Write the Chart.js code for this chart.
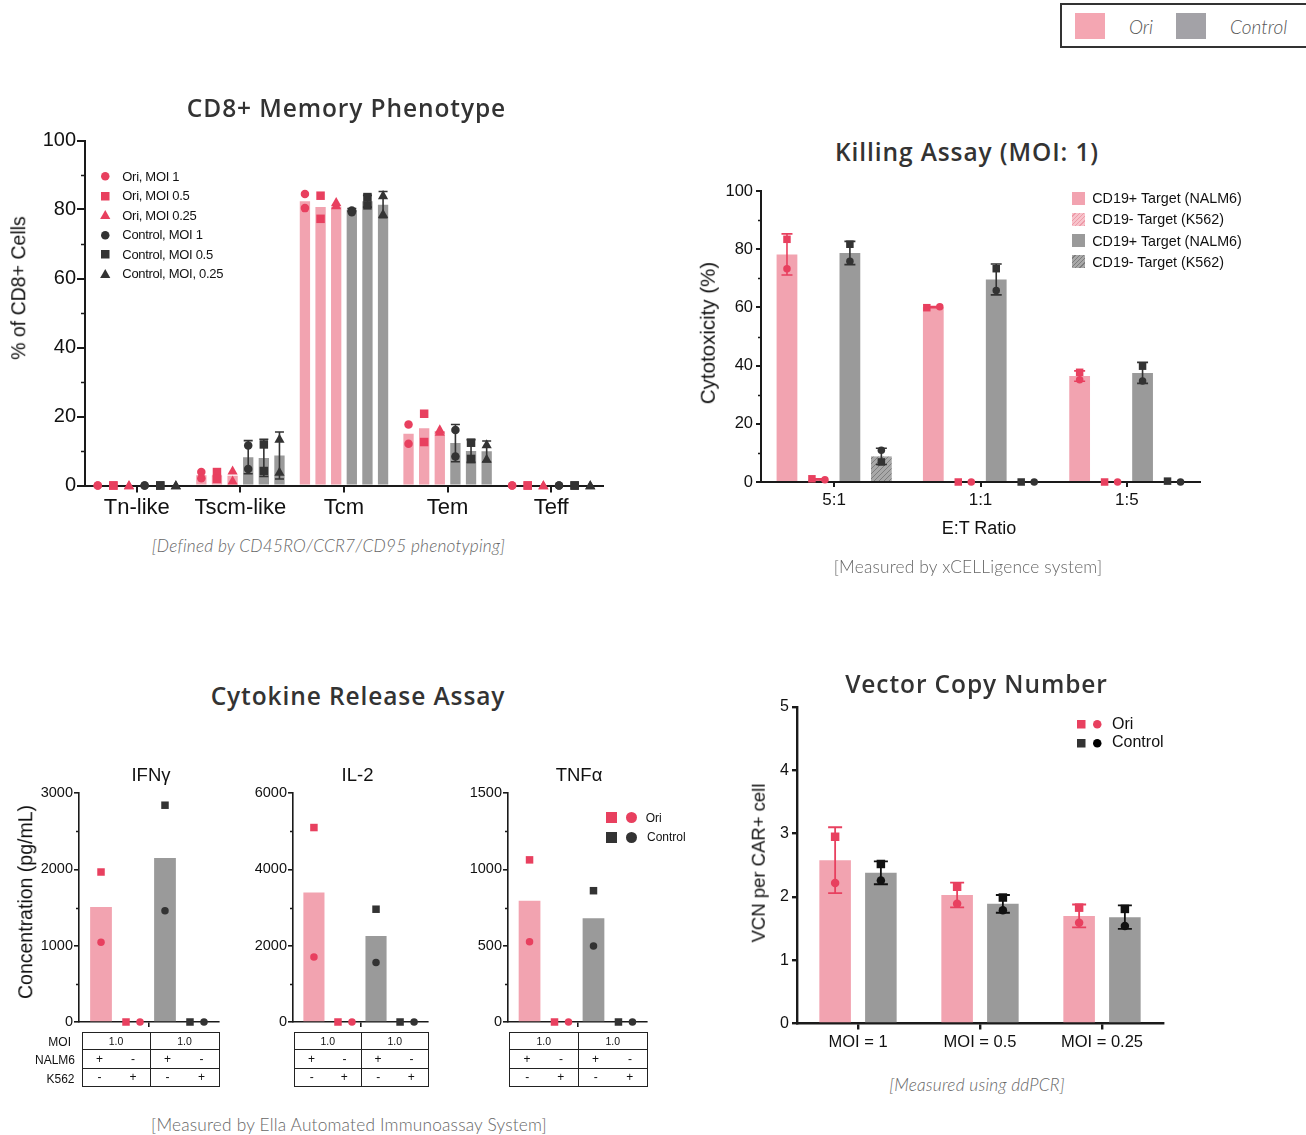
<!DOCTYPE html>
<html><head><meta charset="utf-8">
<script src="https://cdn.jsdelivr.net/npm/chart.js@4.4.1/dist/chart.umd.min.js"></script>
<style>
html,body{margin:0;padding:0;background:#fff;}
body{width:1306px;height:1135px;position:relative;overflow:hidden;font-family:"Liberation Sans",Arial,sans-serif;color:#111;}
.a{position:absolute;white-space:nowrap;line-height:1;}
.c{transform:translate(-50%,-50%);}
.l{transform:translate(0,-50%);}
.r{transform:translate(-100%,-50%);}
.rot{transform:translate(-50%,-50%) rotate(-90deg);}
.ptitle{font-family:"Open Sans",sans-serif;font-weight:600;font-size:24.5px;color:#333;letter-spacing:0.9px;}
.cap{font-family:Lato,"Open Sans",sans-serif;font-weight:300;font-size:17.3px;color:#666;letter-spacing:0.2px;}
canvas{position:absolute;}
.tbl{position:absolute;border:1.5px solid #222;box-sizing:border-box;display:grid;grid-template-columns:repeat(4,1fr);font-size:10.5px;}
.tbl div{display:flex;align-items:center;justify-content:center;}
</style></head><body>
<script>
// ---------------- DATA ----------------
// CD8+ Memory Phenotype (% of CD8+ cells)
const memCategories = ['Tn-like', 'Tscm-like', 'Tcm', 'Tem', 'Teff'];
const memSeriesNames = ['Ori, MOI 1', 'Ori, MOI 0.5', 'Ori, MOI 0.25', 'Control, MOI 1', 'Control, MOI 0.5', 'Control, MOI, 0.25'];
const memOriMoi1 = [0, 3.0, 82.4, 15.0, 0];
const memOriMoi05 = [0, 2.9, 80.7, 16.6, 0];
const memOriMoi025 = [0, 2.8, 80.9, 15.8, 0];
const memCtrlMoi1 = [0, 8.2, 79.9, 12.3, 0];
const memCtrlMoi05 = [0, 8.0, 82.4, 10.0, 0];
const memCtrlMoi025 = [0, 8.7, 81.4, 9.9, 0];
const memOriMoi1Pts = [[0, 0], [3.9, 2.1], [84.5, 80.4], [17.7, 12.1], [0, 0]];
const memOriMoi05Pts = [[0, 0], [3.9, 1.9], [84.0, 77.3], [20.8, 12.6], [0, 0]];
const memOriMoi025Pts = [[0, 0], [4.3, 1.4], [82.1, 81.2], [16.2, 15.5], [0, 0]];
const memCtrlMoi1Pts = [[0, 0], [11.6, 4.8], [79.7, 79.2], [16.1, 8.4], [0, 0]];
const memCtrlMoi05Pts = [[0, 0], [11.9, 4.2], [83.6, 81.2], [12.4, 7.7], [0, 0]];
const memCtrlMoi025Pts = [[0, 0], [13.5, 3.9], [84.1, 78.7], [11.9, 7.7], [0, 0]];
const memCtrlMoi1Sd = [0, 4.8, 0.4, 5.4, 0];
const memCtrlMoi05Sd = [0, 5.4, 1.7, 3.3, 0];
const memCtrlMoi025Sd = [0, 6.8, 3.8, 3.0, 0];

// Killing Assay (MOI: 1) – cytotoxicity %
const killCategories = ['5:1', '1:1', '1:5'];
const killSeriesNames = ['CD19+ Target (NALM6)', 'CD19- Target (K562)', 'CD19+ Target (NALM6)', 'CD19- Target (K562)'];
const killOriNalm6 = [78.2, 60.1, 36.4];
const killOriK562 = [0.9, 0, 0];
const killCtrlNalm6 = [78.7, 69.6, 37.5];
const killCtrlK562 = [8.8, 0, 0];
const killOriNalm6Pts = [[83.4, 73.3], [59.9, 60.2], [37.7, 35.1]];   // [square, circle]
const killOriK562Pts = [[1.1, 0.8], [0, 0], [0, 0]];
const killCtrlNalm6Pts = [[81.7, 75.9], [73.3, 65.8], [39.8, 34.7]];
const killCtrlK562Pts = [[6.9, 10.9], [0, 0], [0.3, 0]];
const killOriNalm6Sd = [7.05, 0.2, 1.8];
const killOriK562Sd = [0.2, 0, 0];
const killCtrlNalm6Sd = [4.0, 5.3, 3.6];
const killCtrlK562Sd = [2.8, 0, 0];

// Cytokine Release Assay (pg/mL)
const cytoConditions = ['Ori NALM6', 'Ori K562', 'Control NALM6', 'Control K562'];
const ifngBars = [1505, 0, 2150, 0];
const ifngPts = [[1965, 1045], [0, 0], [2840, 1458], [0, 0]];
const il2Bars = [3390, 0, 2255, 0];
const il2Pts = [[5095, 1700], [0, 0], [2955, 1560], [0, 0]];
const tnfBars = [795, 0, 680, 0];
const tnfPts = [[1062, 525], [0, 0], [860, 498], [0, 0]];
const tableMOI = ['1.0', '1.0'];
const tableNALM6 = ['+', '-', '+', '-'];
const tableK562 = ['-', '+', '-', '+'];

// Vector Copy Number
const vcnCategories = ['MOI = 1', 'MOI = 0.5', 'MOI = 0.25'];
const vcnOri = [2.58, 2.03, 1.70];
const vcnCtrl = [2.38, 1.89, 1.68];
const vcnOriPts = [[2.95, 2.22], [2.16, 1.89], [1.83, 1.59]];
const vcnCtrlPts = [[2.52, 2.26], [1.99, 1.79], [1.81, 1.54]];
const vcnOriSd = [0.52, 0.195, 0.18];
const vcnCtrlSd = [0.18, 0.14, 0.185];

// ---------------- STYLE ----------------
const PINK_BAR = '#f2a3b0', PINK_PT = '#e8405f', GREY_BAR = '#9a9a9a', DARK_PT = '#333333', AX = '#1a1a1a';
const F = '"Liberation Sans", Arial, sans-serif';

function hatch(bg, line) {
  const c = document.createElement('canvas'); c.width = 5; c.height = 5;
  const g = c.getContext('2d'); g.fillStyle = bg; g.fillRect(0, 0, 5, 5);
  g.strokeStyle = line; g.lineWidth = 1;
  g.beginPath(); g.moveTo(0, 5); g.lineTo(5, 0); g.moveTo(-1, 1); g.lineTo(1, -1); g.moveTo(4, 6); g.lineTo(6, 4); g.stroke();
  return g.createPattern(c, 'repeat');
}

function drawMarker(ctx, shape, x, y, s, color) {
  ctx.fillStyle = color; ctx.beginPath();
  if (shape === 'circle') ctx.arc(x, y, s / 2, 0, Math.PI * 2);
  else if (shape === 'rect') ctx.rect(x - s / 2, y - s / 2, s, s);
  else { ctx.moveTo(x, y - s * 0.62); ctx.lineTo(x + s * 0.6, y + s * 0.45); ctx.lineTo(x - s * 0.6, y + s * 0.45); ctx.closePath(); }
  ctx.fill();
}

const marksPlugin = {
  id: 'marks',
  afterDatasetsDraw(chart) {
    const o = chart.options.plugins.marks || {};
    const ctx = chart.ctx, y = chart.scales.y, area = chart.chartArea;
    if (o.minor) {
      ctx.save(); ctx.strokeStyle = AX; ctx.lineWidth = o.minorW || 1.5; ctx.beginPath();
      for (let v = o.minor; v < y.max; v += o.minor * 2) {
        const py = Math.round(y.getPixelForValue(v)) + 0.5;
        ctx.moveTo(area.left - o.minorLen, py); ctx.lineTo(area.left, py);
      }
      ctx.stroke(); ctx.restore();
    }
    chart.data.datasets.forEach((ds, i) => {
      if (!ds.pts) return;
      const meta = chart.getDatasetMeta(i);
      meta.data.forEach((el, j) => {
        const cx = el.x;
        if (ds.sd && ds.sd[j]) {
          const m = ds.data[j], s = ds.sd[j];
          const yt = y.getPixelForValue(m + s), yb = y.getPixelForValue(Math.max(m - s, 0));
          ctx.save(); ctx.strokeStyle = ds.errColor; ctx.lineWidth = o.errW || 1.6; ctx.beginPath();
          ctx.moveTo(cx, yt); ctx.lineTo(cx, yb);
          ctx.moveTo(cx - o.cap, yt); ctx.lineTo(cx + o.cap, yt);
          ctx.moveTo(cx - o.cap, yb); ctx.lineTo(cx + o.cap, yb);
          ctx.stroke(); ctx.restore();
        }
        const reps = ds.pts[j];
        const py = reps.map(v => y.getPixelForValue(v));
        let offs = reps.map(() => 0);
        if (o.jitter && reps.length === 2 && Math.abs(py[0] - py[1]) < o.size * 0.45) offs = [-o.jitter, o.jitter];
        reps.forEach((v, k) => drawMarker(ctx, ds.shapes[k], cx + offs[k], py[k], o.size, ds.ptColor));
      });
    });
  }
};

function makeChart(o) {
  const cv = document.createElement('canvas');
  cv.width = o.box.w; cv.height = o.box.h;
  cv.style.left = o.box.l + 'px'; cv.style.top = o.box.t + 'px';
  document.body.appendChild(cv);
  const A = o.area;
  return new Chart(cv, {
    type: 'bar',
    data: { labels: o.labels, datasets: o.datasets },
    options: {
      responsive: false, animation: false, devicePixelRatio: 1,
      layout: { padding: { left: 0, top: A.y0 - o.box.t, right: o.box.l + o.box.w - A.x1, bottom: 0 } },
      plugins: { legend: { display: false }, tooltip: { enabled: false }, marks: o.marks },
      datasets: { bar: { categoryPercentage: o.catPct, barPercentage: o.barPct } },
      scales: {
        x: {
          offset: true,
          grid: { display: true, drawOnChartArea: false, offset: false, tickLength: o.xTick, color: AX, lineWidth: o.tickW || o.axW },
          border: { color: AX, width: o.axW },
          ticks: { display: o.xLabels !== false, color: '#111', font: { family: F, size: o.xFont || 12 }, padding: o.xPad || 3, maxRotation: 0, autoSkip: false },
          afterFit: s => { s.height = o.box.t + o.box.h - A.y1; }
        },
        y: {
          min: 0, max: o.yMax,
          ticks: { stepSize: o.yStep, color: '#111', font: { family: F, size: o.yFont }, padding: o.yPad, callback: v => String(v) },
          grid: { drawOnChartArea: false, tickLength: o.yTick, color: AX, lineWidth: o.tickW || o.axW },
          border: { color: AX, width: o.axW },
          afterFit: s => { s.width = A.x0 - o.box.l; }
        }
      }
    },
    plugins: [marksPlugin]
  });
}

function text(x, y, str, cls, style) {
  const d = document.createElement('div');
  d.className = 'a ' + (cls || 'c');
  d.style.left = x + 'px'; d.style.top = y + 'px';
  if (style) d.style.cssText += style;
  d.textContent = str;
  document.body.appendChild(d);
  return d;
}
function svgMarker(x, y, shape, color, s) {
  const w = s + 4, c = w / 2;
  let inner;
  if (shape === 'circle') inner = `<circle cx="${c}" cy="${c}" r="${s / 2}" fill="${color}"/>`;
  else if (shape === 'rect') inner = `<rect x="${c - s / 2}" y="${c - s / 2}" width="${s}" height="${s}" fill="${color}"/>`;
  else inner = `<polygon points="${c},${c - s * 0.62} ${c + s * 0.6},${c + s * 0.45} ${c - s * 0.6},${c + s * 0.45}" fill="${color}"/>`;
  const d = document.createElement('div');
  d.className = 'a';
  d.style.left = (x - w / 2) + 'px'; d.style.top = (y - w / 2) + 'px';
  d.innerHTML = `<svg width="${w}" height="${w}">${inner}</svg>`;
  document.body.appendChild(d);
}
function swatch(x, y, w, h, bg) {
  const d = document.createElement('div');
  d.className = 'a';
  d.style.cssText += `left:${x}px;top:${y}px;width:${w}px;height:${h}px;background:${bg};`;
  document.body.appendChild(d);
}

// ---------------- CHART 1: CD8+ Memory Phenotype ----------------
const memBars = [memOriMoi1, memOriMoi05, memOriMoi025, memCtrlMoi1, memCtrlMoi05, memCtrlMoi025];
const memPts = [memOriMoi1Pts, memOriMoi05Pts, memOriMoi025Pts, memCtrlMoi1Pts, memCtrlMoi05Pts, memCtrlMoi025Pts];
const memSds = [null, null, null, memCtrlMoi1Sd, memCtrlMoi05Sd, memCtrlMoi025Sd];
const memShapes = ['circle', 'rect', 'triangle', 'circle', 'rect', 'triangle'];
makeChart({
  box: { l: 0, t: 120, w: 625, h: 415 }, area: { x0: 85, x1: 603, y0: 140.5, y1: 485.5 },
  labels: memCategories,
  datasets: memSeriesNames.map((n, i) => ({
    label: n, data: memBars[i], backgroundColor: i < 3 ? PINK_BAR : GREY_BAR,
    pts: memPts[i], sd: memSds[i], shapes: [memShapes[i], memShapes[i]],
    ptColor: i < 3 ? PINK_PT : DARK_PT, errColor: i < 3 ? PINK_PT : DARK_PT
  })),
  catPct: 0.905, barPct: 0.66, axW: 2, xTick: 7, xFont: 22, xPad: 2,
  yMax: 100, yStep: 20, yFont: 20, yPad: 1, yTick: 8,
  marks: { minor: 10, minorLen: 4, size: 8.5, cap: 4.5, errW: 1.6 }
});
text(346.5, 108, 'CD8+ Memory Phenotype', 'c ptitle');
text(18.5, 288, '% of CD8+ Cells', 'rot', 'font-size:19.5px;');
text(328.5, 546, '[Defined by CD45RO/CCR7/CD95 phenotyping]', 'c cap', 'font-style:italic;');
const memLegY = [175.7, 195.3, 215, 234.3, 254, 273.3];
memSeriesNames.forEach((n, i) => {
  svgMarker(105.5, memLegY[i], memShapes[i], i < 3 ? PINK_PT : DARK_PT, 8.5);
  text(122.3, memLegY[i], n, 'l', 'font-size:13px;letter-spacing:-0.3px;');
});

// ---------------- CHART 2: Killing Assay ----------------
const killBars = [killOriNalm6, killOriK562, killCtrlNalm6, killCtrlK562];
const killPts = [killOriNalm6Pts, killOriK562Pts, killCtrlNalm6Pts, killCtrlK562Pts];
const killSds = [killOriNalm6Sd, killOriK562Sd, killCtrlNalm6Sd, killCtrlK562Sd];
const killFill = [PINK_BAR, hatch('#f7c3cb', '#ee9aa8'), GREY_BAR, hatch('#a8a8a8', '#7d7d7d')];
makeChart({
  box: { l: 690, t: 170, w: 530, h: 360 }, area: { x0: 761, x1: 1200, y0: 191, y1: 482 },
  labels: killCategories,
  datasets: killSeriesNames.map((n, i) => ({
    label: n, data: killBars[i], backgroundColor: killFill[i],
    pts: killPts[i], sd: killSds[i], shapes: ['rect', 'circle'],
    ptColor: i < 2 ? PINK_PT : DARK_PT, errColor: i < 2 ? PINK_PT : DARK_PT
  })),
  catPct: 0.86, barPct: 0.66, axW: 2, xTick: 5, xFont: 17, xPad: 3,
  yMax: 100, yStep: 20, yFont: 16.5, yPad: 3, yTick: 5,
  marks: { minor: 10, minorLen: 3, size: 7.5, cap: 5.5, errW: 1.6, jitter: 6.5 }
});
text(967, 152, 'Killing Assay (MOI: 1)', 'c ptitle');
text(707.5, 333, 'Cytotoxicity (%)', 'rot', 'font-size:20.5px;');
text(979, 528, 'E:T Ratio', 'c', 'font-size:18px;');
text(968, 567, '[Measured by xCELLigence system]', 'c cap');
const killLegY = [198.3, 219.3, 240.7, 261.7];
const killLegBg = [PINK_BAR, 'repeating-linear-gradient(135deg,#f7c3cb 0 2px,#ee9aa8 2px 3px)', GREY_BAR, 'repeating-linear-gradient(135deg,#a8a8a8 0 2px,#7d7d7d 2px 3px)'];
killSeriesNames.forEach((n, i) => {
  swatch(1072, killLegY[i] - 6.5, 13, 13, killLegBg[i]);
  text(1092.3, killLegY[i], n, 'l', 'font-size:14.3px;');
});

// ---------------- CHART 3: Cytokine Release ----------------
const cytoColors = [PINK_BAR, PINK_BAR, GREY_BAR, GREY_BAR];
const cytoPtColors = [PINK_PT, PINK_PT, DARK_PT, DARK_PT];
function cytoChart(bars, pts, box, area, yMax, yStep, catPct) {
  makeChart({
    box, area, labels: [''],
    datasets: cytoConditions.map((n, i) => ({
      label: n, data: [bars[i]], backgroundColor: cytoColors[i],
      pts: [pts[i]], shapes: ['rect', 'circle'], ptColor: cytoPtColors[i]
    })),
    catPct, barPct: 0.68, axW: 1.6, xTick: 5, xLabels: false,
    yMax, yStep, yFont: 14.5, yPad: 1, yTick: 5,
    marks: { minor: yStep / 2, minorLen: 3, size: 7.5, cap: 4, jitter: 7 }
  });
}
cytoChart(ifngBars, ifngPts, { l: 30, t: 775, w: 200, h: 270 }, { x0: 79, x1: 219, y0: 793, y1: 1022 }, 3000, 1000, 0.914);
cytoChart(il2Bars, il2Pts, { l: 240, t: 775, w: 200, h: 270 }, { x0: 293, x1: 428, y0: 793, y1: 1022 }, 6000, 2000, 0.92);
cytoChart(tnfBars, tnfPts, { l: 455, t: 775, w: 200, h: 270 }, { x0: 508, x1: 647, y0: 793, y1: 1022 }, 1500, 500, 0.92);
text(358, 696, 'Cytokine Release Assay', 'c ptitle');
text(151, 775, 'IFNγ', 'c', 'font-size:18.5px;');
text(357.5, 775, 'IL-2', 'c', 'font-size:18.5px;');
text(579, 775, 'TNFα', 'c', 'font-size:18.5px;');
text(26, 902, 'Concentration (pg/mL)', 'rot', 'font-size:19.5px;');
text(349, 1125, '[Measured by Ella Automated Immunoassay System]', 'c cap');
svgMarker(611, 817.5, 'rect', PINK_PT, 11); svgMarker(631, 817.5, 'circle', PINK_PT, 11);
svgMarker(611, 837, 'rect', DARK_PT, 11); svgMarker(631, 837, 'circle', DARK_PT, 11);
text(645.7, 817.5, 'Ori', 'l', 'font-size:12px;');
text(647, 837, 'Control', 'l', 'font-size:12px;');
function condTable(x0, x1) {
  const t = document.createElement('div');
  t.className = 'tbl';
  t.style.cssText += `left:${x0}px;top:1031.5px;width:${x1 - x0}px;height:55px;grid-template-rows:17px 19px 1fr;`;
  const cells = [];
  tableMOI.forEach((v, k) => cells.push({ v, span: 2, br: k === 0, bb: true, fs: 10.5 }));
  tableNALM6.forEach((v, k) => cells.push({ v, span: 1, br: k === 1, bb: true, fs: 12 }));
  tableK562.forEach((v, k) => cells.push({ v, span: 1, br: k === 1, bb: false, fs: 12 }));
  cells.forEach(c => {
    const d = document.createElement('div');
    d.textContent = c.v;
    d.style.gridColumn = 'span ' + c.span;
    d.style.fontSize = c.fs + 'px';
    if (c.br) d.style.borderRight = '1.5px solid #222';
    if (c.bb) d.style.borderBottom = '1.5px solid #222';
    t.appendChild(d);
  });
  document.body.appendChild(t);
}
condTable(81.5, 219.5); condTable(294, 429); condTable(509, 648);
text(71, 1042, 'MOI', 'r', 'font-size:12px;');
text(75, 1060, 'NALM6', 'r', 'font-size:12px;');
text(74.5, 1079, 'K562', 'r', 'font-size:12px;');

// ---------------- CHART 4: Vector Copy Number ----------------
makeChart({
  box: { l: 760, t: 690, w: 420, h: 380 }, area: { x0: 797, x1: 1163, y0: 707, y1: 1023.5 },
  labels: vcnCategories,
  datasets: [
    { label: 'Ori', data: vcnOri, backgroundColor: PINK_BAR, pts: vcnOriPts, sd: vcnOriSd, shapes: ['rect', 'circle'], ptColor: PINK_PT, errColor: PINK_PT },
    { label: 'Control', data: vcnCtrl, backgroundColor: GREY_BAR, pts: vcnCtrlPts, sd: vcnCtrlSd, shapes: ['rect', 'circle'], ptColor: '#111', errColor: '#111' }
  ],
  catPct: 0.75, barPct: 0.69, axW: 2.4, xTick: 6, xFont: 16.5, xPad: 3,
  yMax: 5, yStep: 1, yFont: 16, yPad: 3, yTick: 5,
  marks: { size: 8.5, cap: 7, errW: 1.8 }
});
text(976.5, 684, 'Vector Copy Number', 'c ptitle');
text(759, 863, 'VCN per CAR+ cell', 'rot', 'font-size:18.5px;');
text(977, 1085, '[Measured using ddPCR]', 'c cap', 'font-style:italic;');
svgMarker(1081, 724, 'rect', PINK_PT, 8.5); svgMarker(1097, 724, 'circle', PINK_PT, 8.5);
svgMarker(1081, 742.3, 'rect', DARK_PT, 8.5); svgMarker(1097, 742.3, 'circle', '#000', 8.5);
text(1112, 724, 'Ori', 'l', 'font-size:16px;');
text(1112, 742.3, 'Control', 'l', 'font-size:16px;');

// ---------------- Global legend box ----------------
const box = document.createElement('div');
box.className = 'a';
box.style.cssText += 'left:1060px;top:3px;width:270px;height:45px;border:2px solid #333;box-sizing:border-box;';
document.body.appendChild(box);
swatch(1075, 13.3, 30, 26, '#f4a6b2');
swatch(1176, 13.3, 30, 26, '#a3a2a7');
text(1129, 26, 'Ori', 'l', 'font-family:Lato,sans-serif;font-weight:300;font-style:italic;font-size:19px;color:#555;');
text(1230, 26, 'Control', 'l', 'font-family:Lato,sans-serif;font-weight:300;font-style:italic;font-size:19px;color:#555;');
</script>
</body></html>
